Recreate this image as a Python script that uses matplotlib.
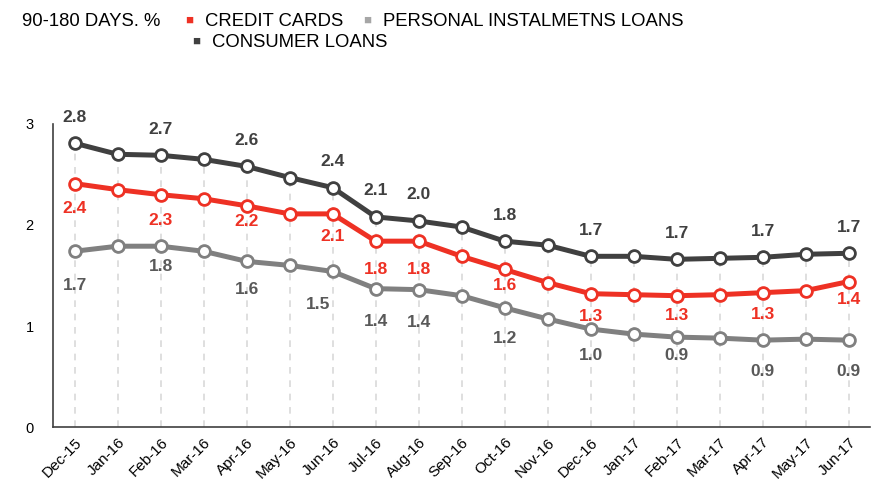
import matplotlib.pyplot as plt

plt.rcParams['font.family'] = ['Liberation Sans', 'DejaVu Sans']

months = ["Dec-15", "Jan-16", "Feb-16", "Mar-16", "Apr-16", "May-16", "Jun-16",
          "Jul-16", "Aug-16", "Sep-16", "Oct-16", "Nov-16", "Dec-16", "Jan-17",
          "Feb-17", "Mar-17", "Apr-17", "May-17", "Jun-17"]
consumer = [2.81, 2.70, 2.69, 2.65, 2.58, 2.47, 2.37, 2.08, 2.04, 1.98, 1.84,
            1.80, 1.69, 1.69, 1.66, 1.67, 1.68, 1.71, 1.72]
credit = [2.41, 2.35, 2.30, 2.26, 2.19, 2.11, 2.11, 1.84, 1.84, 1.69, 1.56,
          1.43, 1.32, 1.31, 1.30, 1.31, 1.33, 1.35, 1.44]
personal = [1.74, 1.79, 1.79, 1.74, 1.64, 1.60, 1.54, 1.37, 1.36, 1.30, 1.18,
            1.07, 0.97, 0.92, 0.89, 0.88, 0.86, 0.87, 0.86]
labelled = [0, 2, 4, 6, 7, 8, 10, 12, 14, 16, 18]

dark = "#404040"
red = "#EE3124"
gray = "#808080"

# label placement (pixels below the point), as the original chart lays them out
red_dy = [25, 26, 16, 23, 28, 28, 16, 23, 20, 22, 18]
gray_dy = [34, 20, 28, 33, 33, 33, 31, 26, 18, 31, 31]
gray_dx = [0, 0, 0, -14, 0, 0, 0, 0, 0, 0, 0]

fig = plt.figure(figsize=(8.78, 4.91), dpi=100)
ax = fig.add_axes([0.0604, 0.1303, 0.9306, 0.6172])

x = list(range(len(months)))

# drop lines from the top series down to the axis
ax.vlines(x, 0, consumer, colors="#D9D9D9", linestyles=(0, (4, 4)), linewidth=1.2, zorder=1)

for vals, col in [(personal, gray), (credit, red), (consumer, dark)]:
    ax.plot(x, vals, color=col, linewidth=3.6, marker="o", markersize=8.5,
            markerfacecolor="white", markeredgecolor=col, markeredgewidth=2, zorder=3)

# data labels
for k, i in enumerate(labelled):
    ax.annotate(f"{consumer[i]:.1f}", (i, consumer[i]), xytext=(0, 26), textcoords="offset pixels",
                ha="center", va="center", fontsize=12.5, fontweight="bold", color=dark)
    ax.annotate(f"{credit[i]:.1f}", (i, credit[i]), xytext=(0, -red_dy[k]), textcoords="offset pixels",
                ha="center", va="center", fontsize=12.5, fontweight="bold", color=red)
    ax.annotate(f"{personal[i]:.1f}", (i, personal[i]), xytext=(gray_dx[k], -gray_dy[k]),
                textcoords="offset pixels",
                ha="center", va="center", fontsize=12.5, fontweight="bold", color="#595959")

ax.set_xlim(-0.5, 18.5)
ax.set_ylim(0, 3)
ax.set_yticks([0, 1, 2, 3])
ax.set_xticks(x)
ax.set_xticklabels(months, rotation=45, ha="right", rotation_mode="anchor", fontsize=11)
ax.tick_params(axis="both", length=0)
ax.tick_params(axis="y", pad=14, labelsize=10.5)
ax.tick_params(axis="x", pad=6)

for s in ["top", "right"]:
    ax.spines[s].set_visible(False)
ax.spines["left"].set_color(dark)
ax.spines["bottom"].set_color(dark)
ax.spines["left"].set_linewidth(1.2)
ax.spines["bottom"].set_linewidth(1.2)

# legend row
fig.text(0.025, 0.957, "90-180 DAYS. %", fontsize=13.3, va="center")
fig.text(0.211, 0.957, "■", fontsize=9.5, color=red, va="center")
fig.text(0.233, 0.957, "CREDIT CARDS", fontsize=13.3, va="center")
fig.text(0.414, 0.957, "■", fontsize=9.5, color="#A6A6A6", va="center")
fig.text(0.436, 0.957, "PERSONAL INSTALMETNS LOANS", fontsize=13.3, va="center")
fig.text(0.219, 0.914, "■", fontsize=9.5, color=dark, va="center")
fig.text(0.241, 0.914, "CONSUMER LOANS", fontsize=13.3, va="center")

fig.savefig("out.png", dpi=100)
